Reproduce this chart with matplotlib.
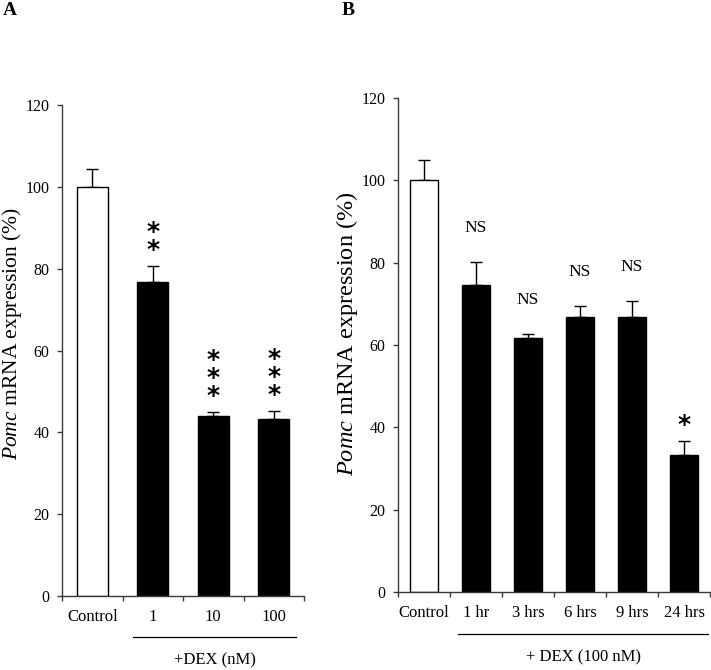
"""Pomc mRNA expression after DEX treatment: dose (A) and time course (B)."""

import matplotlib
matplotlib.use("Agg")
import matplotlib.pyplot as plt
import matplotlib.transforms as mtransforms

SERIF = "Liberation Serif"
AXIS = "#3a3a3a"

# panel A: dose response
dose_labels = ["Control", "1", "10", "100"]
dose_means = [100.0, 76.7, 43.9, 43.2]
dose_errs = [4.4, 4.0, 1.1, 2.0]
dose_marks = ["", "**", "***", "***"]

# panel B: time course at 100 nM
time_labels = ["Control", "1 hr", "3 hrs", "6 hrs", "9 hrs", "24 hrs"]
time_means = [100.0, 74.6, 61.8, 66.8, 66.8, 33.2]
time_errs = [4.9, 5.6, 0.9, 2.7, 4.0, 3.5]
time_marks = ["", "NS", "NS", "NS", "NS", "*"]

plt.rcParams["mathtext.fontset"] = "custom"
plt.rcParams["mathtext.it"] = "Liberation Serif:italic"
plt.rcParams["mathtext.rm"] = "Liberation Serif"


def draw_panel(ax, labels, means, errs, marks, width, label_size, label_xy,
               group_text, line_span, text_x):
    x = list(range(len(labels)))
    colors = ["white"] + ["black"] * (len(labels) - 1)
    ax.bar(x, means, width=width, color=colors, edgecolor="black", linewidth=1.0, zorder=2)
    ax.errorbar(x, means, yerr=[[0] * len(errs), errs], fmt="none", ecolor="black",
                elinewidth=1.0, capsize=4, capthick=1.0, zorder=1)

    ax.set_xlim(-0.5, len(labels) - 0.5)
    ax.set_ylim(0, 120)
    ax.set_yticks(range(0, 121, 20))
    ax.set_xticks([i - 0.5 for i in range(len(labels) + 1)])
    ax.set_xticklabels([])
    ax.set_xticks(x, minor=True)
    ax.set_xticklabels(labels, minor=True, fontsize=12, fontfamily=SERIF)
    ax.tick_params(axis="x", which="major", length=3.6, width=1.0, color=AXIS, direction="out")
    ax.tick_params(axis="x", which="minor", length=0, pad=9)
    ax.tick_params(axis="y", length=3.6, width=1.0, color=AXIS, labelsize=11.5, pad=5.5)
    for lab in ax.get_yticklabels():
        lab.set_fontfamily(SERIF)
    ax.spines[["top", "right"]].set_visible(False)
    for side in ("left", "bottom"):
        ax.spines[side].set_color(AXIS)
        ax.spines[side].set_linewidth(1.0)

    ax.set_ylabel("$\\it{Pomc}$ mRNA expression (%)", fontsize=label_size, fontfamily=SERIF)
    ax.yaxis.set_label_coords(*label_xy)
    ax.yaxis.label.set_va("center")

    for xi, m, e, mark in zip(x, means, errs, marks):
        if not mark:
            continue
        top = m + e
        if mark == "NS":
            ax.text(xi, top + 8.2, mark, ha="center", va="center", fontsize=12.5,
                    fontfamily=SERIF)
        else:
            ax.text(xi, top + 2.2, "\n".join(mark), ha="center", va="baseline",
                    fontsize=18, fontweight="bold", fontfamily="DejaVu Sans",
                    linespacing=0.68, multialignment="center")

    trans = mtransforms.blended_transform_factory(ax.transData, ax.transAxes)
    ax.plot(line_span, [-0.084, -0.084], color="black", linewidth=0.9,
            transform=trans, clip_on=False)
    ax.text(text_x, -0.132, group_text, transform=trans, ha="center", va="center",
            fontsize=12, fontfamily=SERIF)


fig = plt.figure(figsize=(7.11, 6.70), dpi=100, facecolor="white")

ax_a = fig.add_axes([0.0872, 0.1104, 0.3404, 0.7329])
ax_b = fig.add_axes([0.5598, 0.1164, 0.4388, 0.7373])

draw_panel(ax_a, dose_labels, dose_means, dose_errs, dose_marks, 0.51, 15.5, (-0.207, 0.535),
           "+DEX (nM)", [0.67, 3.37], 2.02)
draw_panel(ax_b, time_labels, time_means, time_errs, time_marks, 0.53, 17.5, (-0.164, 0.522),
           "+ DEX (100 nM)", [0.65, 5.46], 3.06)

fig.text(0.004, 0.984, "A", fontsize=14, fontweight="bold", fontfamily=SERIF, va="center")
fig.text(0.481, 0.984, "B", fontsize=14, fontweight="bold", fontfamily=SERIF, va="center")

fig.savefig("out.png", dpi=100, facecolor="white")
